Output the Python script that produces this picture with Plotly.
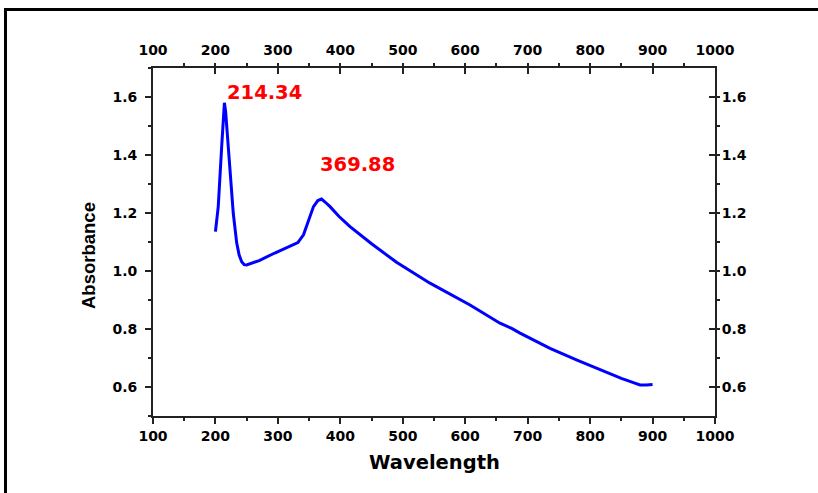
import plotly.graph_objects as go

# Data
wavelength = [200, 204.5, 210, 212.5, 214.34, 216.3, 220.6, 228.5, 234, 238, 242, 246, 250, 270, 295, 320, 332,
              341, 349, 357, 364, 369.88, 376, 383.5, 398, 415.5, 450, 490, 543.6,
              607.7, 655.7, 674.4, 687.8, 695, 735.8, 780, 815.9, 850, 869.3, 880, 890, 900]
absorbance = [1.136, 1.222, 1.43, 1.54, 1.58, 1.55, 1.43, 1.20, 1.097, 1.055, 1.032, 1.022, 1.021, 1.036, 1.062, 1.085, 1.098,
              1.125, 1.176, 1.222, 1.243, 1.248, 1.237, 1.222, 1.188, 1.153, 1.094, 1.030, 0.958,
              0.883, 0.820, 0.802, 0.786, 0.778, 0.733, 0.692, 0.659, 0.630, 0.615, 0.607, 0.607, 0.609]

peak_labels = ["214.34", "369.88"]
peak_label_x = [214.5, 363.5]
peak_label_y = [1.615, 1.368]

x_ticks = [100, 200, 300, 400, 500, 600, 700, 800, 900, 1000]
y_ticks = [0.6, 0.8, 1.0, 1.2, 1.4, 1.6]

W, H = 818, 493
L, R, T, B = 153, 715, 68, 416

tick_font = dict(family="DejaVu Sans", size=14, color="black", weight="bold")

fig = go.Figure()
fig.add_trace(go.Scatter(x=wavelength, y=absorbance, mode="lines",
                         line=dict(color="#0000FF", width=3), showlegend=False,
                         hoverinfo="skip"))
# invisible trace to activate the mirrored top/right axes
fig.add_trace(go.Scatter(x=wavelength, y=absorbance, mode="lines", xaxis="x2", yaxis="y2",
                         line=dict(color="rgba(0,0,0,0)", width=0), showlegend=False,
                         hoverinfo="skip"))

common_x = dict(range=[100, 1000], tickvals=x_ticks, ticktext=[str(v) for v in x_ticks],
                showgrid=False, zeroline=False, showline=True, linecolor="#222",
                linewidth=1.8, tickcolor="#222", tickwidth=1.5, ticklen=6,
                tickfont=tick_font,
                minor=dict(dtick=50, tick0=100, ticklen=3, tickcolor="#222", tickwidth=1.5, showgrid=False))
common_y = dict(range=[0.5, 1.7], tickvals=y_ticks, ticktext=[f"{v:.1f}" for v in y_ticks],
                showgrid=False, zeroline=False, showline=True, linecolor="#222",
                linewidth=1.8, tickcolor="#222", tickwidth=1.5, ticklen=6,
                tickfont=tick_font,
                minor=dict(dtick=0.1, tick0=0.5, ticklen=3, tickcolor="#222", tickwidth=1.5, showgrid=False))

fig.update_layout(
    width=W, height=H,
    margin=dict(l=L, r=W - R, t=T, b=H - B, pad=0),
    paper_bgcolor="white", plot_bgcolor="white",
    xaxis=dict(**common_x, ticks="outside", side="bottom"),
    xaxis2=dict(**common_x, ticks="inside", side="top", overlaying="x", ticklabelstandoff=6),
    yaxis=dict(**common_y, ticks="outside", side="left", ticklabelstandoff=5),
    yaxis2=dict(**common_y, ticks="inside", side="right", overlaying="y", ticklabelstandoff=2),
)

for txt, xv, yv in zip(peak_labels, peak_label_x, peak_label_y):
    fig.add_annotation(x=xv, y=yv, xref="x", yref="y", text=txt, showarrow=False,
                       xanchor="left", yanchor="middle",
                       font=dict(family="DejaVu Sans", size=19.5, color="#FF0000", weight="bold"))

def px_x(p):
    return (p - L) / (R - L)

def px_y(p):
    return (B - p) / (B - T)

# axis titles
fig.add_annotation(x=px_x(434), y=px_y(462), xref="paper", yref="paper", text="Wavelength",
                   showarrow=False, xanchor="center", yanchor="middle",
                   font=dict(family="DejaVu Sans", size=19.5, color="black", weight="bold"))
fig.add_annotation(x=px_x(88), y=px_y(256), xref="paper", yref="paper", text="Absorbance",
                   showarrow=False, xanchor="center", yanchor="middle", textangle=-90,
                   font=dict(family="Liberation Sans", size=18.5, color="black", weight="bold"))

# outer frame (left and top edges)
frame = dict(color="black", width=3)
fig.add_shape(type="line", xref="paper", yref="paper", x0=px_x(5.5), x1=px_x(5.5),
              y0=px_y(9.5), y1=px_y(520), line=frame)
fig.add_shape(type="line", xref="paper", yref="paper", x0=px_x(4), x1=px_x(830),
              y0=px_y(9.5), y1=px_y(9.5), line=frame)

fig.write_html("out.html", config={"displayModeBar": False},
               post_script="document.body.style.margin='0';")
